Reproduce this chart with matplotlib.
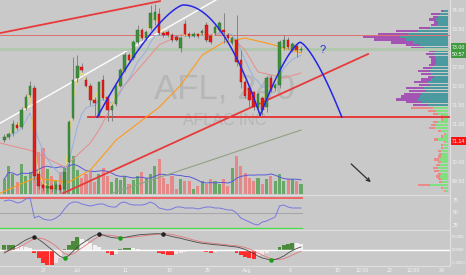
import numpy as np
import pandas as pd
import matplotlib
matplotlib.use("Agg")
import matplotlib.pyplot as plt
from matplotlib.lines import Line2D

plt.rcParams['font.family'] = ['Liberation Sans', 'DejaVu Sans']

# AFL 4h candles (bar index 1..70)
opens = [70.60, 70.67, 70.78, 70.99, 70.94, 71.44, 71.78, 71.96, 69.70, 69.41,
         69.33, 69.39, 69.30, 69.41, 69.30, 70.02, 71.17, 72.23, 72.52, 72.17,
         72.02, 71.65, 71.23, 72.17, 71.73, 71.39, 71.54, 72.02, 72.44, 72.83,
         72.75, 73.17, 73.49, 73.28, 73.54, 73.75, 73.91, 73.41, 73.44, 73.36,
         73.31, 73.02, 73.65, 73.39, 73.33, 73.39, 73.41, 73.62, 73.33, 73.41,
         73.49, 73.49, 73.36, 73.15, 73.23, 72.70, 72.12, 71.96, 71.86, 71.44,
         71.70, 71.46, 72.23, 71.96, 72.04, 73.02, 73.23, 72.96, 73.07, 72.96]
highs = [70.75, 70.82, 71.12, 71.07, 71.46, 71.80, 72.15, 72.05, 69.78, 69.48,
         69.46, 69.43, 69.46, 69.45, 69.88, 71.12, 72.78, 72.83, 72.62, 72.25,
         72.10, 71.72, 72.16, 72.30, 71.78, 71.55, 72.06, 72.50, 72.90, 72.88,
         73.22, 73.62, 73.54, 73.50, 74.15, 74.17, 74.07, 73.46, 73.49, 73.40,
         73.36, 73.33, 73.75, 73.44, 73.44, 73.42, 73.52, 73.70, 73.38, 73.62,
         73.72, 73.94, 73.40, 73.33, 73.89, 72.96, 72.17, 72.02, 71.90, 71.86,
         71.75, 72.28, 72.30, 72.10, 73.22, 73.36, 73.30, 73.18, 73.12, 73.07]
lows = [70.54, 70.62, 70.70, 70.86, 70.90, 71.40, 71.72, 69.55, 69.32, 69.26,
        69.25, 69.24, 69.26, 69.20, 69.20, 69.94, 71.12, 72.12, 72.38, 71.98,
        71.52, 71.20, 71.20, 71.66, 71.10, 71.10, 71.50, 71.98, 72.40, 72.65,
        72.70, 73.12, 73.22, 73.24, 73.50, 73.62, 73.36, 73.30, 73.31, 73.18,
        73.20, 72.91, 73.33, 73.28, 73.30, 73.28, 73.36, 73.18, 73.12, 73.36,
        73.44, 73.15, 73.23, 73.10, 72.54, 71.96, 71.70, 71.44, 71.39, 71.33,
        71.25, 71.33, 71.86, 71.88, 71.96, 72.96, 72.98, 72.90, 72.78, 72.91]
closes = [70.67, 70.75, 71.02, 70.91, 71.39, 71.73, 72.02, 69.65, 69.39, 69.33,
          69.39, 69.30, 69.41, 69.28, 69.75, 71.07, 72.17, 72.54, 72.44, 72.02,
          71.65, 71.57, 72.12, 71.70, 71.39, 71.49, 72.02, 72.44, 72.83, 72.70,
          73.17, 73.49, 73.28, 73.44, 73.94, 73.96, 73.41, 73.36, 73.36, 73.23,
          73.23, 73.28, 73.39, 73.33, 73.39, 73.33, 73.46, 73.23, 73.17, 73.57,
          73.67, 73.44, 73.28, 73.28, 72.65, 72.12, 71.75, 71.65, 71.46, 71.81,
          71.39, 72.23, 71.91, 72.04, 73.17, 73.23, 73.04, 73.12, 72.96, 73.00]
volume = [150, 280, 200, 120, 300, 180, 220, 350, 420, 460,
          250, 180, 140, 220, 260, 300, 380, 240, 160, 200,
          220, 120, 200, 260, 180, 120, 160, 140, 180, 100,
          140, 180, 220, 160, 200, 280, 350, 160, 100, 180,
          50, 150, 130, 130, 50, 80, 130, 100, 150, 130,
          100, 150, 80, 260, 380, 280, 210, 160, 130, 160,
          100, 150, 180, 130, 200, 130, 150, 150, 130, 100]

# slower moving averages (bar index, price)
pink_x = [0, 7, 15, 21, 23, 28, 33, 37, 42, 53, 57, 60, 66, 70]
pink_y = [70.52, 70.33, 69.89, 70.52, 70.86, 71.91, 72.57, 73.10, 73.36, 73.39,
          72.96, 72.39, 72.23, 72.36]
orange_x = [0, 8, 16, 21, 25, 27, 37, 42, 47, 52, 57, 63, 70]
orange_y = [69.20, 69.60, 69.49, 69.81, 70.33, 70.60, 71.46, 72.04, 72.83, 73.17,
            73.28, 73.12, 72.89]
olive_x = [26, 35, 47, 58, 70]
olive_y = [69.20, 69.54, 69.99, 70.41, 70.86]

# RSI and MACD panes
rsi = [74, 76, 74, 70, 72, 78, 80, 40, 44, 38, 36, 36, 40, 46, 58, 68, 72, 72, 68, 66,
       64, 66, 68, 68, 64, 62, 62, 70, 72, 68, 66, 66, 66, 68, 72, 68, 60, 58, 56, 58,
       62, 62, 60, 60, 60, 58, 60, 62, 62, 60, 60, 58, 56, 56, 50, 40, 36, 32, 28, 26,
       32, 34, 38, 42, 64, 66, 62, 60, 60, 60]
macd = [-0.12, -0.02, 0.08, 0.18, 0.30, 0.40, 0.48, 0.52, 0.42, 0.30,
        0.16, 0.02, -0.12, -0.26, -0.32, -0.22, -0.05, 0.12, 0.25, 0.36,
        0.48, 0.58, 0.64, 0.60, 0.54, 0.50, 0.48, 0.48, 0.50, 0.54,
        0.57, 0.60, 0.62, 0.63, 0.64, 0.65, 0.65, 0.63, 0.58, 0.54,
        0.50, 0.47, 0.42, 0.38, 0.34, 0.30, 0.27, 0.25, 0.23, 0.21,
        0.20, 0.18, 0.16, 0.14, 0.12, 0.08, 0.02, -0.06, -0.14, -0.24,
        -0.32, -0.36, -0.40, -0.38, -0.32, -0.24, -0.12, -0.02, 0.06, 0.12]
signal = [-0.05, -0.03, 0.02, 0.08, 0.16, 0.26, 0.36, 0.46, 0.48, 0.45,
          0.38, 0.28, 0.16, 0.00, -0.14, -0.20, -0.16, -0.04, 0.08, 0.20,
          0.32, 0.44, 0.54, 0.60, 0.60, 0.58, 0.55, 0.52, 0.50, 0.50,
          0.52, 0.54, 0.56, 0.58, 0.60, 0.62, 0.64, 0.65, 0.64, 0.62,
          0.58, 0.54, 0.50, 0.45, 0.40, 0.36, 0.32, 0.30, 0.28, 0.26,
          0.24, 0.22, 0.20, 0.18, 0.17, 0.14, 0.10, 0.04, -0.04, -0.12,
          -0.20, -0.28, -0.34, -0.38, -0.38, -0.35, -0.28, -0.20, -0.12, -0.05]
hist = [0.20, 0.20, 0.20, 0.18, 0.15, 0.12, 0.08, -0.10, -0.30, -0.50,
        -0.65, -0.70, -0.50, -0.30, 0.05, 0.20, 0.35, 0.52, 0.45, 0.38,
        0.30, 0.22, 0.14, -0.05, -0.12, -0.18, -0.15, 0.05, 0.08, 0.10,
        0.08, 0.05, 0.02, 0.00, -0.02, -0.05, -0.10, -0.15, -0.18, -0.20,
        -0.15, -0.10, -0.06, -0.04, -0.03, -0.02, -0.04, -0.07, -0.10, -0.06,
        -0.03, -0.02, -0.03, -0.05, -0.12, -0.20, -0.28, -0.33, -0.35, -0.25,
        -0.20, -0.10, -0.05, 0.02, 0.12, 0.20, 0.26, 0.30, 0.28, 0.25]
cross_dn = [8, 23, 38]
cross_up = [15, 28, 63]

# volume profile rows (top row price, step) and widths
vp_top, vp_step = 73.99, 0.075
vp_up_total = [7, 17, 15, 19, 14, 17, 29, 52, 70, 85, 74, 57, 42, 37, 19, 22, 19,
               17, 17, 19, 25, 30, 27, 20, 27, 34, 29, 42, 39, 44, 47, 52, 42, 35]
vp_up_inner = [4, 8, 10, 12, 10, 11, 18, 30, 40, 48, 42, 35, 28, 24, 12, 14, 13,
               12, 12, 13, 16, 18, 17, 14, 17, 20, 18, 24, 22, 26, 28, 30, 26, 20]
vp_dn_total = [37, 20, 15, 7, 7, 15, 17, 19, 10, 4, 7, 14, 4, 7, 7,
               10, 9, 10, 14, 10, 12, 15, 14, 10, 12, 10, 9, 30, 7, 4]
vp_dn_inner = [15, 12, 10, 4, 5, 10, 12, 13, 7, 3, 5, 10, 3, 5, 5,
               7, 6, 7, 9, 7, 8, 10, 9, 7, 8, 7, 6, 18, 5, 3]

# drawings (bar index, price)
white_line = ([0, 50.2], [71.04, 74.28])
red_top_line = ([0, 37.2], [73.41, 74.25])
red_trend = ([14.65, 85.6], [69.20, 72.86])
resist_level = 73.36
support_level = 71.20
last_price = 73.00
# start, peak, end (x), base/peak/base (price), left/right curvature
arc1 = (22.6, 42.6, 60.5, 71.20, 74.15, 71.25, 1.4, 2.0)
arc2 = (60.5, 69.8, 79.5, 71.25, 73.17, 71.20, 1.4, 1.4)

price_ticks = [74.0, 73.5, 72.5, 72.0, 71.5, 71.0, 70.0, 69.5]
x_ticks = [10.2, 18.1, 29.1, 39.5, 48.4, 57.4, 67.4, 78.4, 84.2, 90.5, 96.0, 102.6]
x_labels = ['27', 'Jul', '11', '18', '25', 'Aug', '8', '15', '12:00', '22', '12:00', '29']

BG = '#c9c9c9'
LABEL = '#f4f4f4'
W, H = 466, 275


def frac(x0, y0, x1, y1):
    return [x0 / W, 1 - y1 / H, (x1 - x0) / W, (y1 - y0) / H]


def arc_xy(a, n=80):
    x0, xp, x1, y0, yp, y1, pl, pr = a
    t = np.linspace(1, 0, n)
    xl = xp - (xp - x0) * t
    yl = y0 + (yp - y0) * (1 - t ** pl)
    t2 = np.linspace(0, 1, n)
    xr = xp + (x1 - xp) * t2
    yr = y1 + (yp - y1) * (1 - t2 ** pr)
    return np.r_[xl, xr], np.r_[yl, yr]


fig = plt.figure(figsize=(W / 100, H / 100), dpi=100, facecolor=BG)
XMAX = 450 / 4.3
YLIM = (69.18, 74.28)
idx = np.arange(1, len(closes) + 1)
o, h, l, c = map(np.array, (opens, highs, lows, closes))
up = c >= o

# volume pane (behind price)
ax_vol = fig.add_axes(frac(0, 0, 450, 194))
ax_vol.set_facecolor(BG)
ax_vol.bar(idx, volume, width=0.72, color=np.where(up, '#6aa86a', '#e58888'), zorder=1)
ax_vol.plot(idx, pd.Series(volume).rolling(10, min_periods=1).mean(), color='#5a5ad8', lw=0.7)
ax_vol.set_xlim(0, XMAX)
ax_vol.set_ylim(0, 1940)
ax_vol.axis('off')

# volume profile
ax_vp = fig.add_axes(frac(340, 0, 448, 194))
ax_vp.patch.set_alpha(0)
n_up = len(vp_up_total)
rows = vp_top - vp_step * np.arange(n_up + len(vp_dn_total))
ax_vp.barh(rows[:n_up], vp_up_total, height=vp_step * 0.8, color='#a455b4')
ax_vp.barh(rows[:n_up], vp_up_inner, height=vp_step * 0.8, color='#4a9aa0')
ax_vp.barh(rows[n_up:], vp_dn_total, height=vp_step * 0.8, color='#e88a8a')
ax_vp.barh(rows[n_up:], vp_dn_inner, height=vp_step * 0.8, color='#80e080')
ax_vp.set_xlim(108, 0)
ax_vp.set_ylim(*YLIM)
ax_vp.axis('off')

# price pane
ax = fig.add_axes(frac(0, 0, 450, 194))
ax.patch.set_alpha(0)
ax.set_xlim(0, XMAX)
ax.set_ylim(*YLIM)
ax.axis('off')

ax.text(52.3, 71.70, 'AFL, 240', fontsize=25, color='#b6b6b6', ha='center', va='baseline', zorder=0)
ax.text(52.3, 70.99, 'AFLAC INC', fontsize=11.5, color='#b6b6b6', ha='center', va='baseline', zorder=0)

ax.plot(*white_line, color='white', lw=1.0, zorder=2)
ax.plot(*red_top_line, color='#e83a3a', lw=1.3, zorder=2)
ax.axhline(resist_level, color='#e06060', lw=0.6, zorder=2)
ax.axhline(last_price, color='#b2c8ae', lw=2.2, zorder=2)
ax.plot([20.5, XMAX], [support_level] * 2, color='#e83030', lw=1.3, zorder=2)
ax.plot(*red_trend, color='#e83a3a', lw=1.3, zorder=2)

ax.plot(olive_x, olive_y, color='#8fa383', lw=0.8, zorder=3)
ax.plot(orange_x, orange_y, color='#ff9a1a', lw=0.8, zorder=3)
ax.plot(pink_x, pink_y, color='#e88c8c', lw=0.7, zorder=3)
ax.plot(idx, pd.Series(closes).ewm(span=8, adjust=False).mean(), color='#93b2e0', lw=0.7, zorder=3)
ax.plot(idx, pd.Series(closes).ewm(span=2, adjust=False).mean(), color='#f0e060', lw=0.6, zorder=3)

ax.vlines(idx, l, h, color='#787878', lw=0.6, zorder=4)
body = np.maximum(np.abs(c - o), 0.012)
ax.bar(idx, body, bottom=np.minimum(o, c), width=0.58,
       color=np.where(up, '#3d8f3d', '#e41c1c'), edgecolor=np.where(up, '#2a6a2a', '#b01010'),
       lw=0.3, zorder=5)

for a in (arc1, arc2):
    ax.plot(*arc_xy(a), color='#2626e6', lw=1.1, zorder=6)
ax.text(75.1, 72.96, '?', color='#2626e6', fontsize=8, ha='center', va='center', zorder=6)
ax.annotate('', xy=(86.7, 69.44), xytext=(81.2, 70.02),
            arrowprops=dict(arrowstyle='->', color='#2e2e2e', lw=0.9, mutation_scale=6), zorder=6)

ytr = ax.get_yaxis_transform()
FS = 3.8
for p in price_ticks:
    ax.text(1.004, p, f'{p:.2f}', transform=ytr, fontsize=FS, color=LABEL, va='center', clip_on=False)
boxes = [(73.03, '73.00', '#3d9a3d'), (72.85, '50:57', '#3d9a3d'), (70.57, '71.14', '#ff1010')]
for p, s, fc in boxes:
    ax.text(1.004, p, s, transform=ytr, fontsize=FS, color='white', va='center', clip_on=False,
            bbox=dict(boxstyle='square,pad=0.3', fc=fc, ec='none'))

# RSI pane
ax_rsi = fig.add_axes(frac(0, 195, 450, 229))
ax_rsi.set_facecolor(BG)
ax_rsi.set_xlim(0, XMAX)
ax_rsi.set_ylim(18, 86)
ax_rsi.plot([0, 70.3], [80, 80], color='#f06464', lw=1.4)
ax_rsi.plot([0, 70.3], [50, 50], color='#a8a8a8', lw=0.8)
ax_rsi.plot([0, 70.3], [20, 20], color='#4ae04a', lw=1.0)
ax_rsi.plot(idx, rsi, color='#7878e0', lw=0.7)
for v in (75, 50, 25):
    ax_rsi.text(1.006, v, str(v), transform=ax_rsi.get_yaxis_transform(), fontsize=FS,
                color=LABEL, va='center', clip_on=False)

# MACD pane
ax_m = fig.add_axes(frac(0, 230, 450, 265))
ax_m.set_facecolor(BG)
ax_m.set_xlim(0, XMAX)
ax_m.set_ylim(-0.6, 0.8)
ax_m.axhline(0, color='white', lw=1.0)
hv = np.array(hist)
rising = np.r_[True, np.diff(hv) >= 0]
hcol = np.where(hv >= 0, np.where(rising, '#4a8a3a', '#f2f2f2'),
                np.where(rising, '#f5e2e2', '#ff2a2a'))
ax_m.bar(idx, hv, width=0.9, color=hcol)
ax_m.plot(idx, signal, color='#e07878', lw=0.6)
ax_m.plot(idx, macd, color='#4a4a4a', lw=0.6)
m = np.array(macd)
ax_m.scatter(cross_dn, m[np.array(cross_dn) - 1], s=5, color='#222222', zorder=5)
ax_m.scatter(cross_up, m[np.array(cross_up) - 1], s=5, color='#16a016', zorder=5)
for v, s in ((0.5, '0.5000'), (0.0, '0.0000'), (-0.5, '-0.5000')):
    ax_m.text(1.004, v, s, transform=ax_m.get_yaxis_transform(), fontsize=3.1,
              color=LABEL, va='center', clip_on=False)
xtr = ax_m.get_xaxis_transform()
for xp, s in zip(x_ticks, x_labels):
    ax_m.text(xp, -0.15, s, transform=xtr, fontsize=FS, color=LABEL, ha='center', va='center')

for a in (ax_rsi, ax_m):
    a.set_xticks([])
    a.set_yticks([])
    for sp in a.spines.values():
        sp.set_visible(False)
    a.spines['top'].set_visible(True)
    a.spines['top'].set_color('#dedede')
    a.spines['top'].set_linewidth(0.8)

fig.add_artist(Line2D([450 / W] * 2, [1 - 265 / H, 1], transform=fig.transFigure, color='#e2e2e2', lw=0.8))
fig.add_artist(Line2D([0, 450 / W], [1 - 265.5 / H] * 2, transform=fig.transFigure, color='#dedede', lw=0.8))

fig.savefig('out.png', dpi=100, facecolor=BG)
